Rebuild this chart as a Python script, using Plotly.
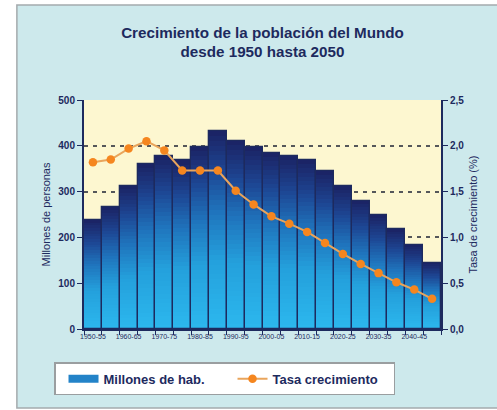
import plotly.graph_objects as go
import plotly.colors as pc

periodos = ["1950-55", "1955-60", "1960-65", "1965-70", "1970-75", "1975-80",
            "1980-85", "1985-90", "1990-95", "1995-00", "2000-05", "2005-10",
            "2010-15", "2015-20", "2020-25", "2025-30", "2030-35", "2035-40",
            "2040-45", "2045-50"]
millones = [238, 267, 313, 360, 378, 368, 398, 433, 411, 398, 385, 378,
            369, 345, 312, 280, 249, 218, 183, 145]
tasa = [1.82, 1.85, 1.97, 2.05, 1.95, 1.73, 1.73, 1.73, 1.51, 1.36, 1.23,
        1.15, 1.06, 0.94, 0.82, 0.71, 0.61, 0.51, 0.43, 0.33]
etiquetas = [p if i % 2 == 0 else "" for i, p in enumerate(periodos)]

NAVY = "#1d2a5e"
escala = [[0.0, "#2cb8ee"], [0.35, "#24a0dc"], [0.6, "#1f72bb"],
          [0.8, "#1d4592"], [1.0, "#1b2263"]]

fig = go.Figure()

N = 40
for k in range(N):
    frac = (N - k) / N
    col = pc.sample_colorscale(escala, [(N - k - 0.5) / N])[0]
    fig.add_trace(go.Bar(
        x=periodos, y=[v * frac for v in millones],
        marker=dict(color=col, line=dict(width=0), opacity=1),
        showlegend=False, hoverinfo="skip"))

fig.add_trace(go.Bar(
    x=periodos, y=millones, name="Millones de hab.",
    marker=dict(color="rgba(0,0,0,0)", line=dict(color=NAVY, width=1.3)),
    showlegend=False))

# legend-only entry for the bars (wide bar-like swatch)
fig.add_trace(go.Scatter(
    x=[None], y=[None], name="Millones de hab.", mode="lines",
    line=dict(color="#2383c8", width=8), showlegend=True))

fig.add_trace(go.Scatter(
    x=periodos, y=tasa, yaxis="y2", name="Tasa crecimiento",
    mode="lines+markers",
    line=dict(color="#e9a55c", width=2),
    marker=dict(color="#f5861f", size=8.5, line=dict(width=0))))

fig.update_layout(
    width=497, height=410,
    margin=dict(l=84, r=56, t=100, b=81, autoexpand=False),
    paper_bgcolor="white",
    plot_bgcolor="rgba(0,0,0,0)",
    barmode="overlay", bargap=0,
    separators=",.",
    font=dict(family="Liberation Sans, Arial, sans-serif", color=NAVY),
    title=dict(text="<b>Crecimiento de la población del Mundo<br>desde 1950 hasta 2050</b>",
               x=0.5, xref="paper", xanchor="center",
               y=0.908, yref="container", yanchor="top",
               font=dict(size=15.2, color=NAVY)),
    xaxis=dict(type="category", tickmode="array", tickvals=periodos,
               ticktext=etiquetas, tickson="boundaries", ticks="outside",
               range=[-0.5, len(periodos) - 0.5], automargin=False,
               ticklen=4, tickcolor=NAVY, tickfont=dict(size=7, color=NAVY),
               showline=True, linecolor=NAVY, linewidth=2, showgrid=False,
               tickangle=0),
    yaxis=dict(range=[0, 500], dtick=100, showline=True, linecolor=NAVY,
               linewidth=2, ticks="outside", ticklen=5, tickcolor=NAVY,
               tickfont=dict(size=10, color=NAVY, weight="bold"),
               showgrid=True, gridcolor="#55575a", gridwidth=2,
               griddash="4px,5px", zeroline=False, automargin=False,
               title=dict(text="Millones de personas", font=dict(size=11, color=NAVY),
                          standoff=5)),
    yaxis2=dict(range=[0, 2.5], dtick=0.5, tickformat=".1f", overlaying="y",
                side="right", showline=True, linecolor=NAVY, linewidth=2,
                ticks="outside", ticklen=5, tickcolor=NAVY, automargin=False,
                tickfont=dict(size=10, color=NAVY, weight="bold"),
                showgrid=False, zeroline=False,
                title=dict(text="Tasa de crecimiento (%)",
                           font=dict(size=11, color=NAVY), standoff=6)),
    legend=dict(orientation="h", x=-0.084, y=-0.145, xanchor="left", yanchor="top",
                bgcolor="white", bordercolor="#9a9ea0", borderwidth=1.5,
                font=dict(size=13, color=NAVY, weight="bold"), entrywidth=116,
                indentation=8, traceorder="normal"),
    shapes=[
        dict(type="rect", xref="paper", yref="paper", x0=-0.188, x1=1.2,
             y0=-0.345, y1=1.415, fillcolor="#cde9ec",
             line=dict(color="#a4aaad", width=1.5), layer="below"),
        dict(type="rect", xref="paper", yref="paper", x0=0, x1=1, y0=0, y1=1,
             fillcolor="#fdf7d0", line=dict(width=0), layer="below"),
    ],
)

fig.write_html("out.html", config={"displayModeBar": False},
               post_script="document.body.style.margin='0';")
